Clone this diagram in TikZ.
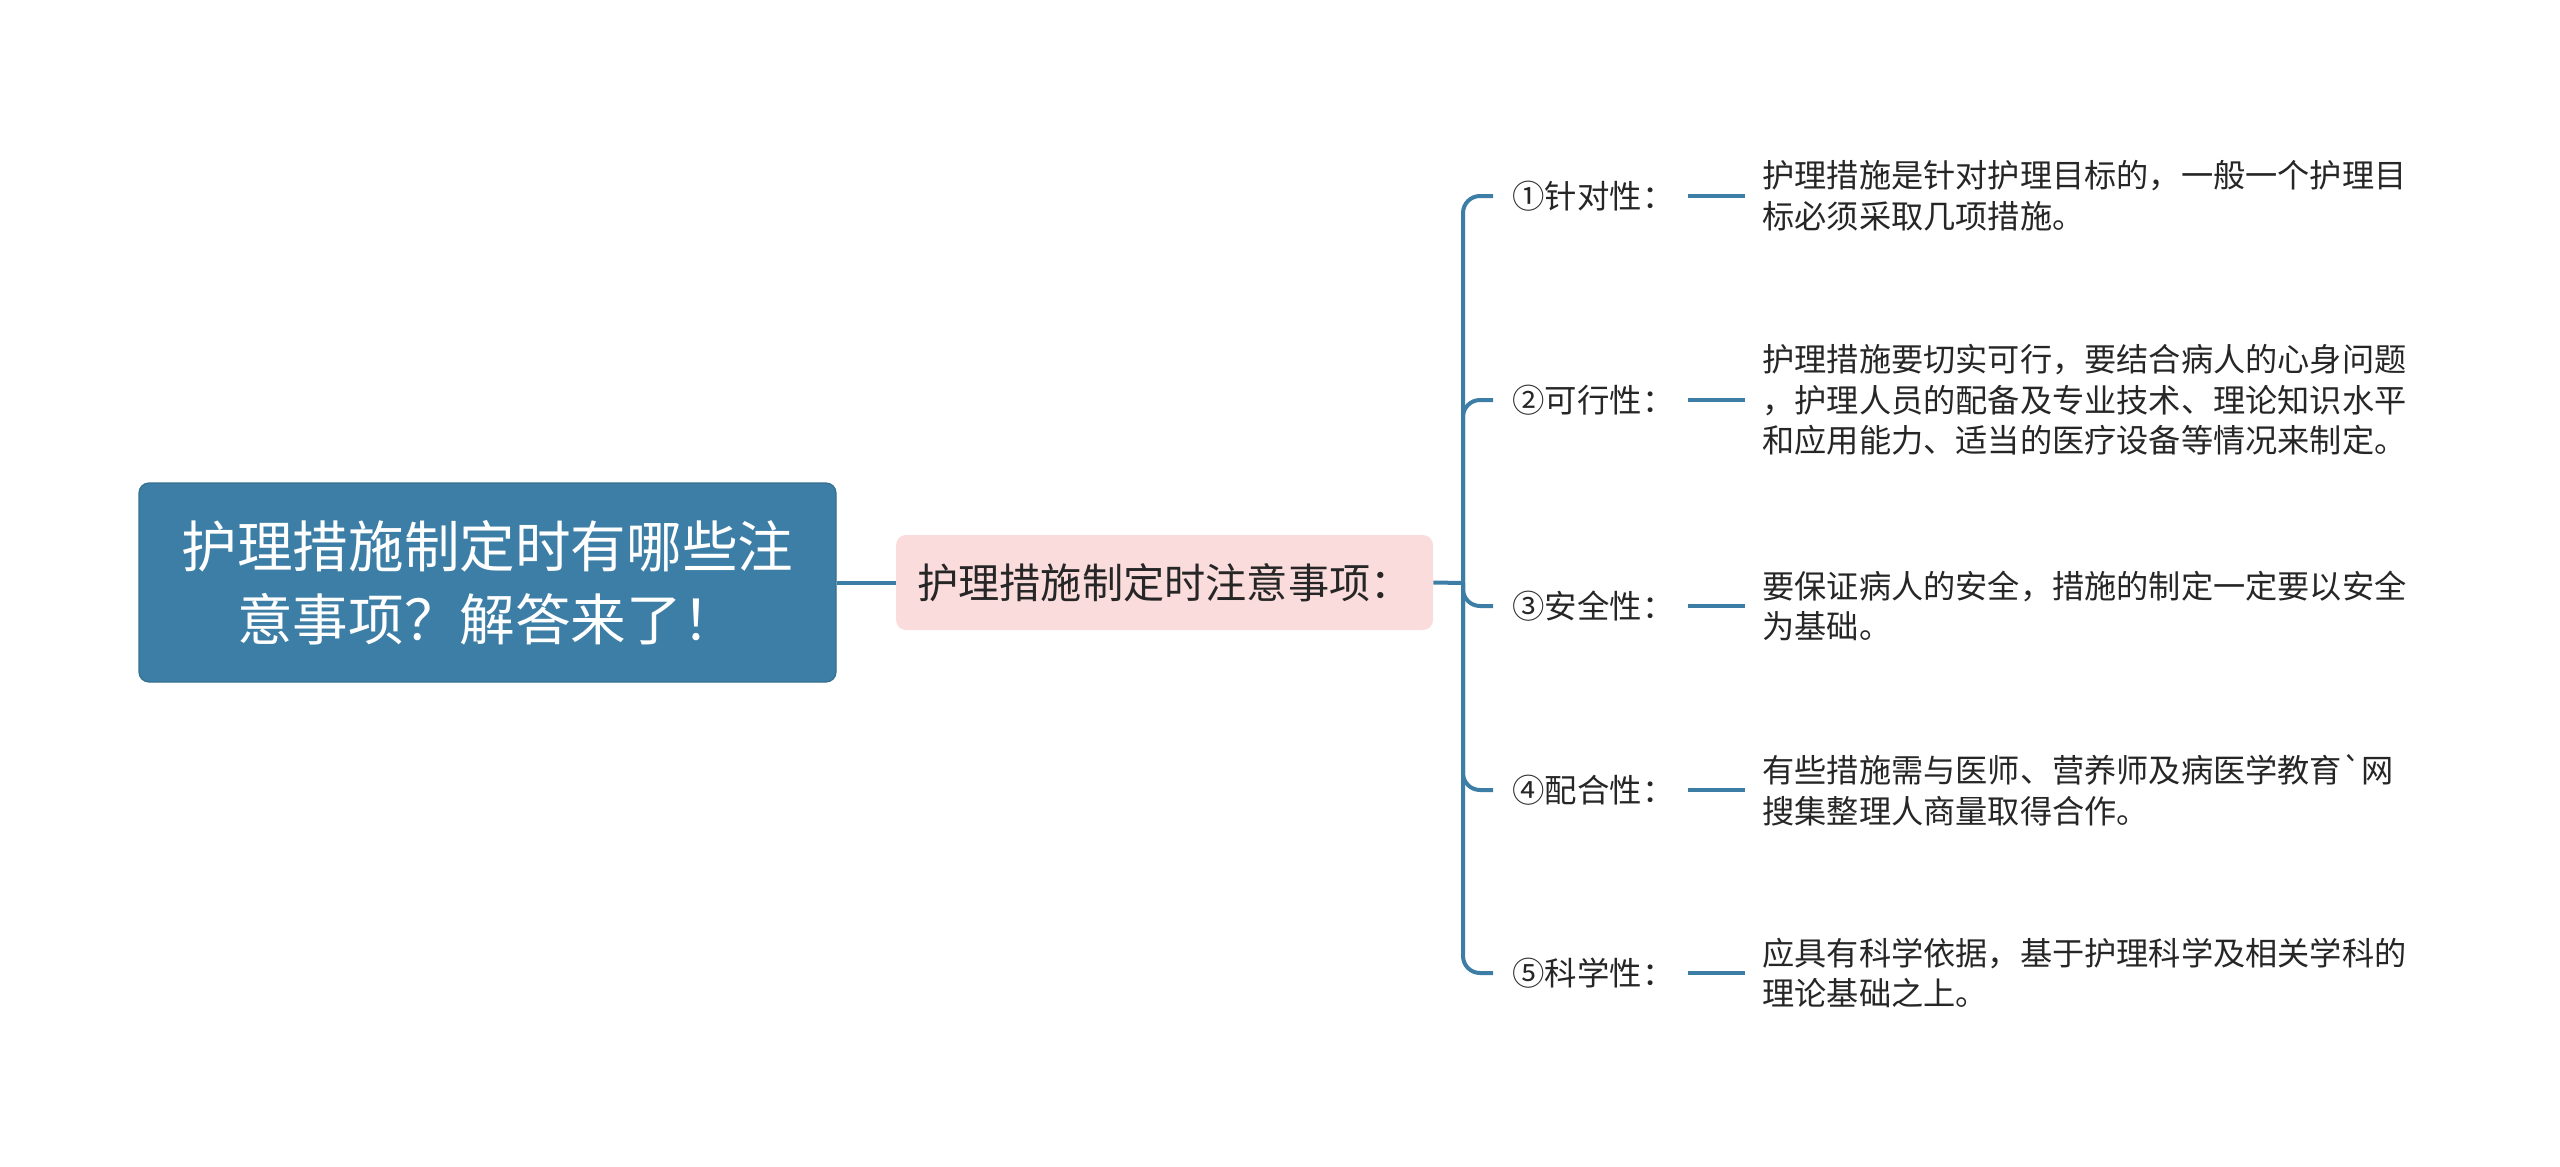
\documentclass[tikz,border=0pt]{standalone}
\usepackage{fontspec}
\setmainfont{Noto Sans CJK SC}
\newfontfamily\rawcjk{Noto Sans CJK SC}
\definecolor{mainblue}{HTML}{3D7EA6}
\definecolor{rootborder}{HTML}{35708F}
\definecolor{pinkfill}{HTML}{FBDCDC}
\definecolor{txt}{HTML}{262626}
\begin{document}
\begin{tikzpicture}[x=0.5pt,y=-0.5pt,
  rootbox/.style={draw=rootborder,line width=0.6pt,fill=mainblue,rounded corners=5pt,
    minimum width=348.5pt,minimum height=99.5pt,text=white,align=center,inner sep=0pt,
    font=\fontsize{27.8pt}{36.5pt}\selectfont},
  midbox/.style={fill=pinkfill,rounded corners=5pt,minimum width=268.5pt,minimum height=47.5pt,
    text=txt,inner sep=0pt,font=\fontsize{20.6pt}{24pt}\selectfont},
  leafbox/.style={anchor=west,inner xsep=9.5pt,inner ysep=2pt,text width=78pt,align=left,text=txt,
    font=\fontsize{16.2pt}{20pt}\selectfont},
  descbox/.style={anchor=west,inner xsep=8.5pt,inner ysep=2pt,align=left,text=txt,
    font=\fontsize{16.1pt}{20.3pt}\selectfont},
  conn/.style={draw=mainblue,line width=2pt},
  branch/.style={conn,rounded corners=8.5pt}]
\useasboundingbox (0,0) rectangle (2560,1167);
\node[rootbox] (root) at (487.5,582.5) {护理措施制定时有哪些注\\意事项？解答来了！};
\node[midbox] (mid) at (1164.5,582.5) {护理措施制定时注意事项：};
\coordinate (j) at (1463,583);
\node[leafbox] (l1) at (1493,196) {①针对性：};
\node[leafbox] (l2) at (1493,400) {②可行性：};
\node[leafbox] (l3) at (1493,606) {③安全性：};
\node[leafbox] (l4) at (1493,790) {④配合性：};
\node[leafbox] (l5) at (1493,973) {⑤科学性：};
\node[descbox] (d1) at (1745,196) {护理措施是针对护理目标的，一般一个护理目\\标必须采取几项措施。};
\node[descbox] (d2) at (1745,400) {护理措施要切实可行，要结合病人的心身问题\\，护理人员的配备及专业技术、理论知识水平\\和应用能力、适当的医疗设备等情况来制定。};
\node[descbox] (d3) at (1745,606) {要保证病人的安全，措施的制定一定要以安全\\为基础。};
\node[descbox] (d4) at (1745,790) {有些措施需与医师、营养师及病医学教育{\rawcjk `}网\\搜集整理人商量取得合作。};
\node[descbox] (d5) at (1745,973) {应具有科学依据，基于护理科学及相关学科的\\理论基础之上。};
\draw[conn] (root.east) -- (mid.west);
\draw[conn] (mid.east) -- (j);
\foreach \i in {1,...,5} {
  \draw[branch] (j) |- (l\i.west);
  \draw[conn] (l\i.east) -- (d\i.west);
}
\end{tikzpicture}
\end{document}
